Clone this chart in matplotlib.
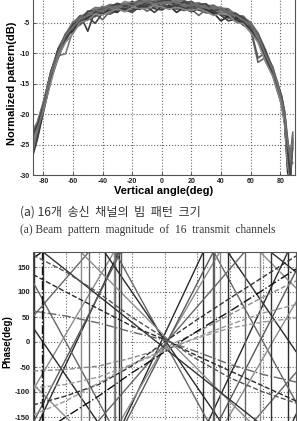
import numpy as np
import matplotlib
matplotlib.use("Agg")
import matplotlib.pyplot as plt

plt.rcParams['axes.unicode_minus'] = False
plt.rcParams['font.family'] = ['Liberation Sans', 'DejaVu Sans']

# ---------------- (a) beam pattern of 16 transmit channels ----------------
angles = [-87, -84, -80, -75, -70, -65, -60, -55, -50, -45, -40, -35, -30, -25,
          -20, -15, -10, -5, 0, 5, 10, 15, 20, 25, 30, 35, 40, 45, 50, 55, 60,
          65, 70, 75, 78, 81, 83, 85, 87, 88.5]
base_db = [-24.5, -22.5, -18.8, -13.8, -10.0, -7.3, -5.6, -4.5, -3.8, -3.3,
           -3.0, -2.7, -2.5, -2.3, -2.2, -2.0, -1.9, -1.9, -1.9, -1.9, -2.0,
           -2.1, -2.2, -2.4, -2.6, -2.8, -3.1, -3.5, -4.0, -4.6, -5.6, -7.3,
           -10.2, -13.0, -15.2, -17.8, -20.5, -25.5, -28.5, -26.0]

# deviation of every channel from the common pattern (dB)
dev_ch1 = [1.5, 0.8, 0.4, 0.6, 0.3, 0.5, 0.2, 0.4, -0.3, 0.5, 0.2, -0.4, 0.6, 0.1, 0.7, -0.2, 0.5, 0.8, 0.3, 0.6,
           -0.1, 0.4, 0.7, 0.2, -0.3, 0.5, 0.3, 0.6, 0.1, -0.2, 0.4, 0.5, 0.3, 0.6, 0.2, 0.4, 0.5, -1.0, -2.0, 1.5]
dev_ch2 = [-1.8, -1.2, -0.5, -0.3, -0.6, -0.2, -0.5, -0.8, -0.4, -0.7, -0.3, -0.9, -0.5, -0.6, -0.2, -0.8, -0.4, -0.3, -0.7, -0.2,
           -0.6, -0.9, -0.3, -0.5, -0.8, -0.4, -0.6, -0.3, -0.7, -0.5, -0.4, -0.6, -0.8, -0.5, -0.7, -0.6, -0.4, 1.0, -1.5, -5.0]
dev_ch3 = [0.3, 0.2, -0.2, 0.1, -0.4, -2.8, -0.6, 0.2, 0.4, -0.1, 0.3, 0.6, -0.2, 0.4, 0.1, 0.5, -0.3, 0.2, 0.6, -0.1,
           0.3, 0.2, -0.5, 0.4, 0.6, 0.1, -0.3, 0.2, 0.5, 0.3, -0.2, 0.1, -0.4, 0.2, 0.3, -0.2, 0.2, -2.0, -3.0, -5.0]
dev_ch4 = [-0.6, -0.4, 0.6, 0.8, 0.5, 0.2, 0.5, 0.7, -2.6, 0.3, 0.6, 0.1, 0.4, -0.5, 0.3, 0.7, 0.2, -0.4, 0.5, 0.8,
           0.4, -0.3, 0.2, 0.6, 0.3, -0.2, 0.5, 0.2, -0.4, 0.6, 0.3, 0.2, 0.5, 0.1, -0.3, 0.4, 0.8, 0.5, 1.0, 2.0]
dev_ch5 = [0.8, 0.5, -0.8, -0.6, -0.3, -0.7, -0.2, -0.5, -0.6, -0.2, -1.5, -0.4, -0.7, -0.1, -0.5, -0.3, -1.2, -0.6, -0.2, -0.5,
           -0.8, -0.3, -0.6, -1.4, -0.2, -0.7, -0.4, -0.8, -0.3, -0.6, -0.5, -4.2, -0.5, -0.7, -0.4, -0.8, -0.6, -3.0, -2.0, -5.0]
dev_ch6 = [-1.0, -0.6, 0.2, -0.2, 0.4, 0.1, -0.3, 0.3, 0.6, 0.2, -0.2, 0.5, 0.2, 0.8, 0.4, -0.1, 0.3, 0.6, -0.2, 0.4,
           0.7, 0.1, 0.5, -0.2, 0.6, 0.3, 0.7, -0.1, 0.4, 0.2, 0.6, 0.3, 0.4, -0.2, 0.5, -1.2, -1.0, -0.5, 0.5, 1.5]
dev_ch7 = [-0.2, 0.6, 0.1, 0.3, -0.5, -0.2, 0.4, -0.6, -0.2, -1.8, -0.4, 0.2, -0.3, -0.6, -1.1, -0.4, 0.2, -0.8, -1.0, -0.4,
           0.1, -0.6, -0.2, -0.4, -0.1, -0.9, -0.3, -0.6, -0.2, -0.4, -0.1, -0.5, -0.2, -0.3, -0.6, -0.2, -0.5, -2.5, -3.0, -5.0]
dev_ch8 = [0.5, 1.2, 0.8, 0.4, 0.7, 0.3, 0.6, 0.2, 0.5, 0.8, 0.4, 0.7, 0.3, 0.2, -0.3, 0.4, 0.6, 0.2, -0.4, 0.3,
           0.5, 0.8, 0.2, 0.6, 0.4, -0.1, 0.5, 0.8, 0.3, 0.5, 0.7, 0.6, 0.8, 0.5, 0.4, 0.6, 1.0, 1.5, 0.0, -2.0]
dev_ch9 = [-1.2, -0.8, -0.3, -0.7, -0.2, 0.3, -0.8, -0.3, -0.5, 0.2, -0.6, -0.2, -0.8, 0.3, -0.4, -0.7, -0.2, 0.4, -0.6, -0.3,
           -1.3, -0.4, 0.2, -0.5, -0.2, -0.6, -1.6, -0.4, -0.2, -0.8, -0.3, -0.7, -0.2, -0.4, -0.5, -0.3, -0.8, -4.0, -3.0, -5.0]
dev_ch10 = [0.1, -0.2, 0.3, -0.4, 0.2, -0.5, 0.3, -0.3, 0.1, -0.4, 0.5, -0.2, 0.2, -0.7, 0.5, 0.1, -0.5, 0.3, 0.1, -0.6,
            0.2, 0.5, -0.4, 0.1, -0.5, 0.4, -0.2, 0.3, -0.6, 0.2, -0.3, -3.5, 0.3, 0.4, -0.2, 0.3, 0.1, -1.5, -1.0, 0.5]
dev_ch11 = [2.0, 1.2, 0.6, 0.2, -0.2, 0.4, 0.8, 0.3, -0.1, 0.4, 0.7, 0.2, -0.5, 0.3, 0.5, 0.2, 0.7, -0.3, 0.4, 0.2,
            0.6, -0.4, 0.3, 0.7, 0.2, 0.5, -0.2, 0.4, 0.6, -0.3, 0.2, -0.4, -0.6, -0.3, 0.6, 0.2, -0.6, -2.5, -3.0, -5.0]
dev_ch12 = [-2.2, -1.6, -0.9, -0.5, -0.8, -0.4, -0.2, -0.6, -0.3, -0.5, -0.1, -0.6, -0.3, -0.4, -0.8, -0.2, -0.5, -1.4, -0.4, -0.6,
            -0.2, -0.5, -1.0, -0.3, -0.5, -0.2, -0.7, -1.2, -0.4, -0.2, -0.6, -0.8, -0.4, -0.6, -0.9, -0.5, -0.7, -1.0, -2.0, -5.0]
dev_ch13 = [0.9, 0.4, 0.0, 0.5, 0.8, 0.4, 0.1, 0.6, 0.3, -0.3, 0.1, 0.4, 0.1, 0.5, 0.2, 0.6, 0.1, 0.3, 0.7, 0.2,
            0.1, 0.3, 0.6, -0.2, 0.3, 0.7, 0.2, 0.4, 0.1, 0.7, 0.2, 0.5, 0.2, 0.7, 0.5, 0.8, 0.6, 1.0, 2.0, 3.0]
dev_ch14 = [-0.4, 0.2, -0.6, -1.0, -0.5, -0.9, -1.2, -0.4, -0.8, -0.3, -0.7, -0.5, -0.2, -0.9, -0.3, -0.6, -0.8, -0.2, -0.5, -0.9,
            -0.4, -0.7, -0.8, -0.3, -0.6, -1.0, -0.4, -0.2, -0.9, -0.6, -1.0, -0.9, -1.2, -0.8, -1.0, -0.7, -1.2, -2.5, -3.0, -5.0]
dev_ch15 = [1.2, 0.7, 0.2, 0.0, 0.6, -0.3, 0.4, -0.2, 0.7, 0.3, -0.4, 0.3, 0.7, 0.0, 0.3, -0.5, 0.4, 0.1, 0.5, 0.7,
            -0.3, 0.6, 0.1, 0.4, 0.7, -0.3, 0.4, 0.0, 0.5, 0.4, 0.1, 0.3, 0.6, 0.2, 0.0, 0.5, 0.3, -0.5, -2.5, -5.0]
dev_ch16 = [-1.5, -0.3, -0.2, 0.3, 0.0, 0.2, -0.1, 0.1, 0.0, 0.4, -0.2, 0.3, 0.0, 0.5, -0.1, 0.2, 0.4, 0.0, 0.2, 0.3,
            0.4, -0.1, 0.1, 0.3, 0.0, 0.2, 0.4, 0.1, 0.2, 0.0, 0.3, 0.2, 0.0, 0.3, 0.2, 0.0, 0.3, 0.5, 1.5, 2.5]
pattern_devs = [dev_ch1, dev_ch2, dev_ch3, dev_ch4, dev_ch5, dev_ch6, dev_ch7, dev_ch8,
                dev_ch9, dev_ch10, dev_ch11, dev_ch12, dev_ch13, dev_ch14, dev_ch15, dev_ch16]

# ---------------- (b) phase of 16 transmit channels (unwrapped, deg) ----------------
ph_angles = [-80, -60, -40, -20, 0, 20, 40, 60, 80]
phase_ch1 = [-545, -405, -265, -125, 15, 155, 295, 435, 575]
phase_ch2 = [480, 360, 240, 120, 0, -120, -240, -360, -480]
phase_ch3 = [-456, -344, -232, -120, -8, 104, 216, 328, 440]
phase_ch4 = [389, 293, 197, 101, 5, -91, -187, -283, -379]
phase_ch5 = [-309, -233, -157, -81, -5, 71, 147, 223, 299]
phase_ch6 = [276, 210, 144, 78, 12, -54, -120, -186, -252]
phase_ch7 = [-522, -394, -266, -138, -10, 118, 246, 374, 502]
phase_ch8 = [196, 144, 92, 40, -12, -64, -116, -168, -220]
phase_ch9 = [135, 100, 66, 32, 5, -28, -58, -88, -118]
phase_ch10 = [-58, -55, -48, -32, -12, 20, 55, 90, 122]
phase_ch11 = [-192, -150, -108, -62, -20, 22, 62, 104, 146]
phase_ch12 = [-92, -85, -70, -45, -18, 10, 35, 58, 75]
phase_ch13 = [-126, -108, -85, -48, 0, 45, 88, 130, 172]
phase_ch14 = [62, 52, 38, 20, 4, -20, -45, -65, -80]
phase_ch15 = [174, 140, 98, 50, 8, -35, -72, -100, -122]
phase_ch16 = [-146, -118, -82, -45, -15, 8, 28, 40, 48]
phases = [phase_ch1, phase_ch2, phase_ch3, phase_ch4, phase_ch5, phase_ch6, phase_ch7, phase_ch8,
          phase_ch9, phase_ch10, phase_ch11, phase_ch12, phase_ch13, phase_ch14, phase_ch15, phase_ch16]

pat_colors = ['#2b2b2b', '#5a5a5a', '#7a7a7a', '#3c3c3c', '#666666', '#888888', '#444444', '#707070']
ph_styles = [('#2a2a2a', '-'), ('#666666', '-'), ('#8c8c8c', '-'), ('#2a2a2a', '-'),
             ('#666666', '-'), ('#8c8c8c', '-'), ('#5a5a5a', '-'), ('#333333', '-'),
             ('#2a2a2a', '--'), ('#8c8c8c', '--'), ('#111111', '-.'), ('#999999', '--'),
             ('#333333', '--'), ('#666666', '-.'), ('#555555', '--'), ('#9a9a9a', '--')]

W, H = 297, 421
fig = plt.figure(figsize=(W / 100, H / 100), dpi=100)


def style_axes(ax, size):
    ax.grid(True, ls=':', color='#666666', lw=0.8)
    for s in ax.spines.values():
        s.set_color('#555555')
        s.set_linewidth(0.8)
    ax.tick_params(direction='in', length=2, width=0.5, labelsize=size,
                   colors='#222222', pad=2)
    for lab in ax.get_xticklabels() + ax.get_yticklabels():
        lab.set_fontweight('bold')


# top axes: beam pattern (its 0 dB edge lies above the picture)
ax1 = fig.add_axes([33 / W, (H - 175) / H, 262 / W, 182.7 / H])
x = np.array(angles)
for i, d in enumerate(pattern_devs):
    ax1.plot(x, np.array(base_db) + np.array(d), color=pat_colors[i % len(pat_colors)], lw=1.2)
ax1.set_xlim(-87, 90)
ax1.set_ylim(-30, 0)
ax1.set_xticks(np.arange(-80, 81, 20))
ax1.set_yticks(np.arange(-30, -4, 5))
style_axes(ax1, 5)
ax1.set_xlabel('Vertical angle(deg)', fontsize=8, fontweight='bold', labelpad=1)
ax1.set_ylabel('Normalized pattern(dB)', fontsize=8, fontweight='bold', labelpad=2)

fig.text(20 / W, (H - 212) / H, '(a) 16개  송신  채널의  빔  패턴  크기', fontsize=8.7,
         family=['Noto Sans CJK KR', 'DejaVu Sans'], color='#333333', va='center', ha='left')
fig.text(20 / W, (H - 230) / H, '(a) Beam  pattern  magnitude  of  16  transmit  channels',
         fontsize=8.3, family='Liberation Serif', color='#333333', va='center', ha='left')

# bottom axes: phase (cut by the lower figure edge)
ax2 = fig.add_axes([33 / W, (H - 432) / H, 263 / W, 180 / H])
for p, (c, ls) in zip(phases, ph_styles):
    xa = np.array(ph_angles, float)
    pa = np.array(p, float)
    for k in range(-3, 4):
        ax2.plot(xa, pa + 360 * k, color=c, ls=ls, lw=1.0)
    # phase wrap jumps
    for j in range(len(xa) - 1):
        lo, hi = sorted((pa[j], pa[j + 1]))
        for lev in range(-900, 901, 360):
            if lo < lev <= hi:
                t = xa[j] + (lev - pa[j]) * (xa[j + 1] - xa[j]) / (pa[j + 1] - pa[j])
                ax2.vlines(t, -180, 180, color=c, ls=ls, lw=1.0)
ax2.set_xlim(-80, 80)
ax2.set_ylim(-180, 180)
ax2.set_xticks(np.arange(-80, 81, 20))
ax2.set_yticks(np.arange(-150, 151, 50))
style_axes(ax2, 5.5)
ax2.tick_params(labelbottom=False)
ax2.set_ylabel('Phase(deg)', fontsize=7, fontweight='bold', labelpad=2)

fig.savefig('out.png', dpi=100)
